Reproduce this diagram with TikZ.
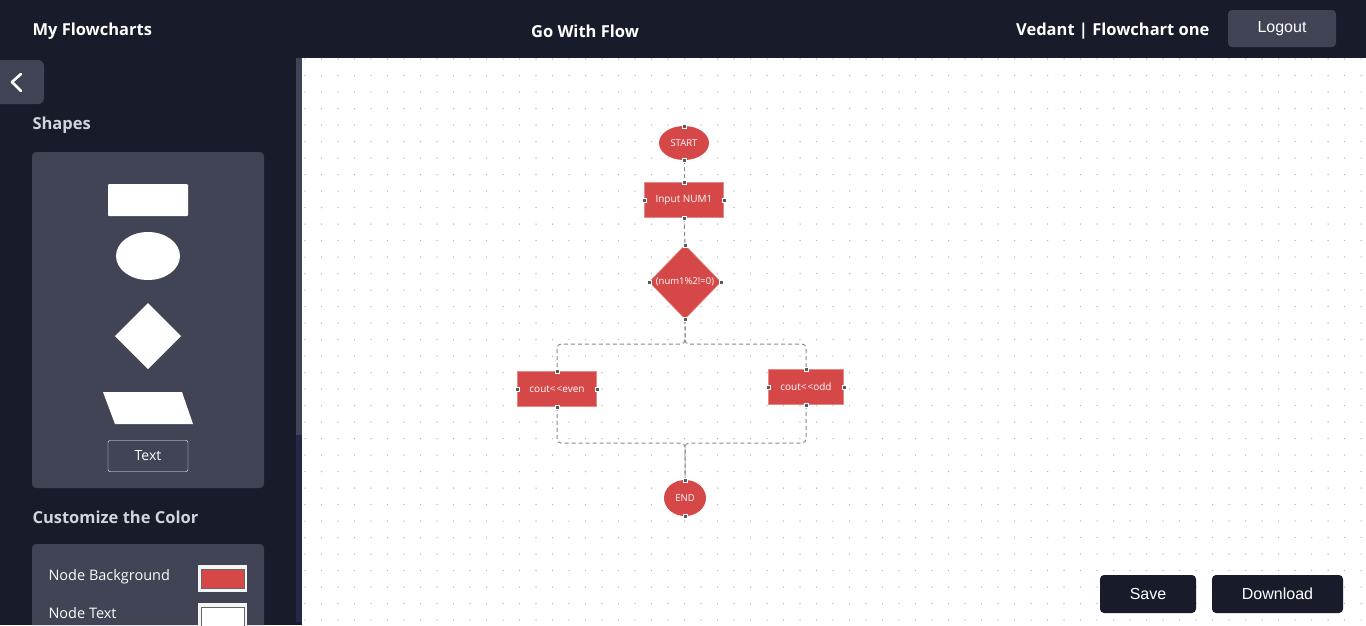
\documentclass[tikz,border=0pt]{standalone}
\usepackage{fontspec}
\setmainfont{Open Sans}
\newfontfamily\btnfont{Liberation Sans}
\usetikzlibrary{shapes.geometric, positioning}

\definecolor{darkbg}{RGB}{24,28,42}
\definecolor{panelbg}{RGB}{64,68,85}
\definecolor{thumbbg}{RGB}{36,39,70}
\definecolor{nodered}{RGB}{214,72,72}
\definecolor{edgegrey}{RGB}{138,138,138}
\definecolor{labelgrey}{RGB}{208,212,222}
\definecolor{dotgrey}{RGB}{185,185,185}

\tikzstyle{terminal} = [ellipse, minimum width=50pt, minimum height=34pt, inner sep=0pt, fill=nodered, text=white, font=\fontsize{9.5}{11}\selectfont]
\tikzstyle{process} = [rectangle, minimum width=79pt, minimum height=35pt, inner sep=0pt, fill=nodered, draw=nodered!65!white, line width=0.6pt, text=white, font=\fontsize{10}{12}\selectfont]
\tikzstyle{decision} = [diamond, minimum width=72pt, minimum height=74pt, inner sep=0pt, fill=nodered, draw=nodered!65!white, line width=0.6pt]
\tikzstyle{edge} = [edgegrey, line width=1pt, dash pattern=on 4pt off 3pt, rounded corners=4pt]
\tikzstyle{handle} = [fill=gray!70!black, draw=white, line width=0.4pt]
\tikzstyle{button} = [rounded corners=4pt, text=white, font=\btnfont\fontsize{16}{18}\selectfont]
\tikzstyle{heading} = [anchor=west, text=labelgrey, font=\bfseries\fontsize{16.5}{19}\selectfont]
\tikzstyle{toptitle} = [text=white, font=\bfseries\fontsize{16.5}{20}\selectfont]
\tikzstyle{colorlabel} = [anchor=west, text=white!92!labelgrey, font=\fontsize{14.5}{17}\selectfont]

\begin{document}
\begin{tikzpicture}[x=1pt, y=-1pt]

    \useasboundingbox (0,0) rectangle (1366,625);

    % Background
    \fill[darkbg] (0,0) rectangle (1366,625);
    \fill[white] (302,58) rectangle (1366,625);
    \fill[panelbg] (296,58) rectangle (302,435);
    \fill[thumbbg] (296,435) rectangle (302,622);
    \foreach \i in {0,...,64}
        \foreach \j in {0,...,34}
            \fill[dotgrey] (305+\i*16.5, 59+\j*16.5) circle (0.75);

    % Header
    \node (title) [toptitle, anchor=west] at (29,31) {My Flowcharts};
    \node (app) [toptitle] at (585,31) {Go With Flow};
    \node (user) [toptitle, anchor=east] at (1213,31) {Vedant | Flowchart one};
    \node (logout) [button, fill=panelbg, minimum width=108pt, minimum height=37pt] at (1282,28.5) {Logout};

    % Sidebar
    \fill[panelbg, rounded corners=6pt] (-10,60) rectangle (44,104);
    \draw[white, line width=2.6pt, line cap=round, line join=round] (21,74) -- (12,82) -- (21,91);
    \node (shapes) [heading] at (29,125) {Shapes};
    \fill[panelbg, rounded corners=4pt] (32,152) rectangle (264,488);
    \fill[white, rounded corners=1pt] (108,184) rectangle (188,216);
    \fill[white] (148,256) ellipse [x radius=32, y radius=24];
    \fill[white] (148,303) -- (181,336) -- (148,369) -- (115,336) -- cycle;
    \fill[white] (103,392) -- (182,392) -- (193,424) -- (115,424) -- cycle;
    \node (textbox) [draw=white, rounded corners=2pt, minimum width=80pt, minimum height=31pt, text=white, font=\fontsize{14}{16}\selectfont] at (148,456) {Text};

    \node (custom) [heading] at (29,517) {Customize the Color};
    \fill[panelbg] (32,625) [rounded corners=4pt] -- (32,544) -- (264,544) [sharp corners] -- (264,625) -- cycle;
    \node (bglabel) [colorlabel] at (45,577) {Node Background};
    \node (txtlabel) [colorlabel] at (45,613) {Node Text};
    \fill[white!92!gray] (198,565) rectangle (247,592);
    \filldraw[fill=nodered, draw=gray!80!black, line width=0.8pt] (201,569) rectangle (244,588);
    \fill[white!92!gray] (198,603) rectangle (247,628);
    \filldraw[fill=white, draw=gray!80!black, line width=0.8pt] (201,607) rectangle (244,626);

    % Nodes
    \node (start) [terminal] at (684,143) {START};
    \node (input) [process] at (684,200) {Input NUM1};
    \node (check) [decision, label={[text=white, font=\fontsize{9.5}{11}\selectfont]center:(num1\%2!=0)}] at (685,282) {};
    \node (even) [process] at (557,389) {cout<{}\kern1pt<{}even};
    \node (odd) [process, minimum width=75pt] at (806,387) {cout<{}\kern1pt<{}odd};
    \node (stop) [terminal, minimum width=42pt, minimum height=36pt] at (685,498) {END};
    \coordinate (split) at (685,344);
    \coordinate (merge) at (685,443);

    % Arrows
    \draw [edge] (start.south) -- (input.north);
    \draw [edge] (input.south) -- (check.north);
    \draw [edge] (check.south) -- (split) -| (even.north);
    \draw [edge] (check.south) -- (split) -| (odd.north);
    \draw [edge] (even.south) |- (merge) -- (stop.north);
    \draw [edge] (odd.south) |- (merge) -- (stop.north);

    % Handles
    \foreach \n/\a in {start/north, start/south, input/north, input/south, input/west, input/east,
                       check/north, check/south, check/west, check/east, even/north, even/south,
                       even/west, even/east, odd/north, odd/south, odd/west, odd/east,
                       stop/north, stop/south}
        \filldraw[handle] (\n.\a) ++(-2,-2) rectangle ++(4,4);

    % Buttons
    \node (save) [button, fill=darkbg, minimum width=96pt, minimum height=38pt] at (1148,594) {Save};
    \node (download) [button, fill=darkbg, minimum width=131pt, minimum height=38pt] at (1277.5,594) {Download};

\end{tikzpicture}
\end{document}
